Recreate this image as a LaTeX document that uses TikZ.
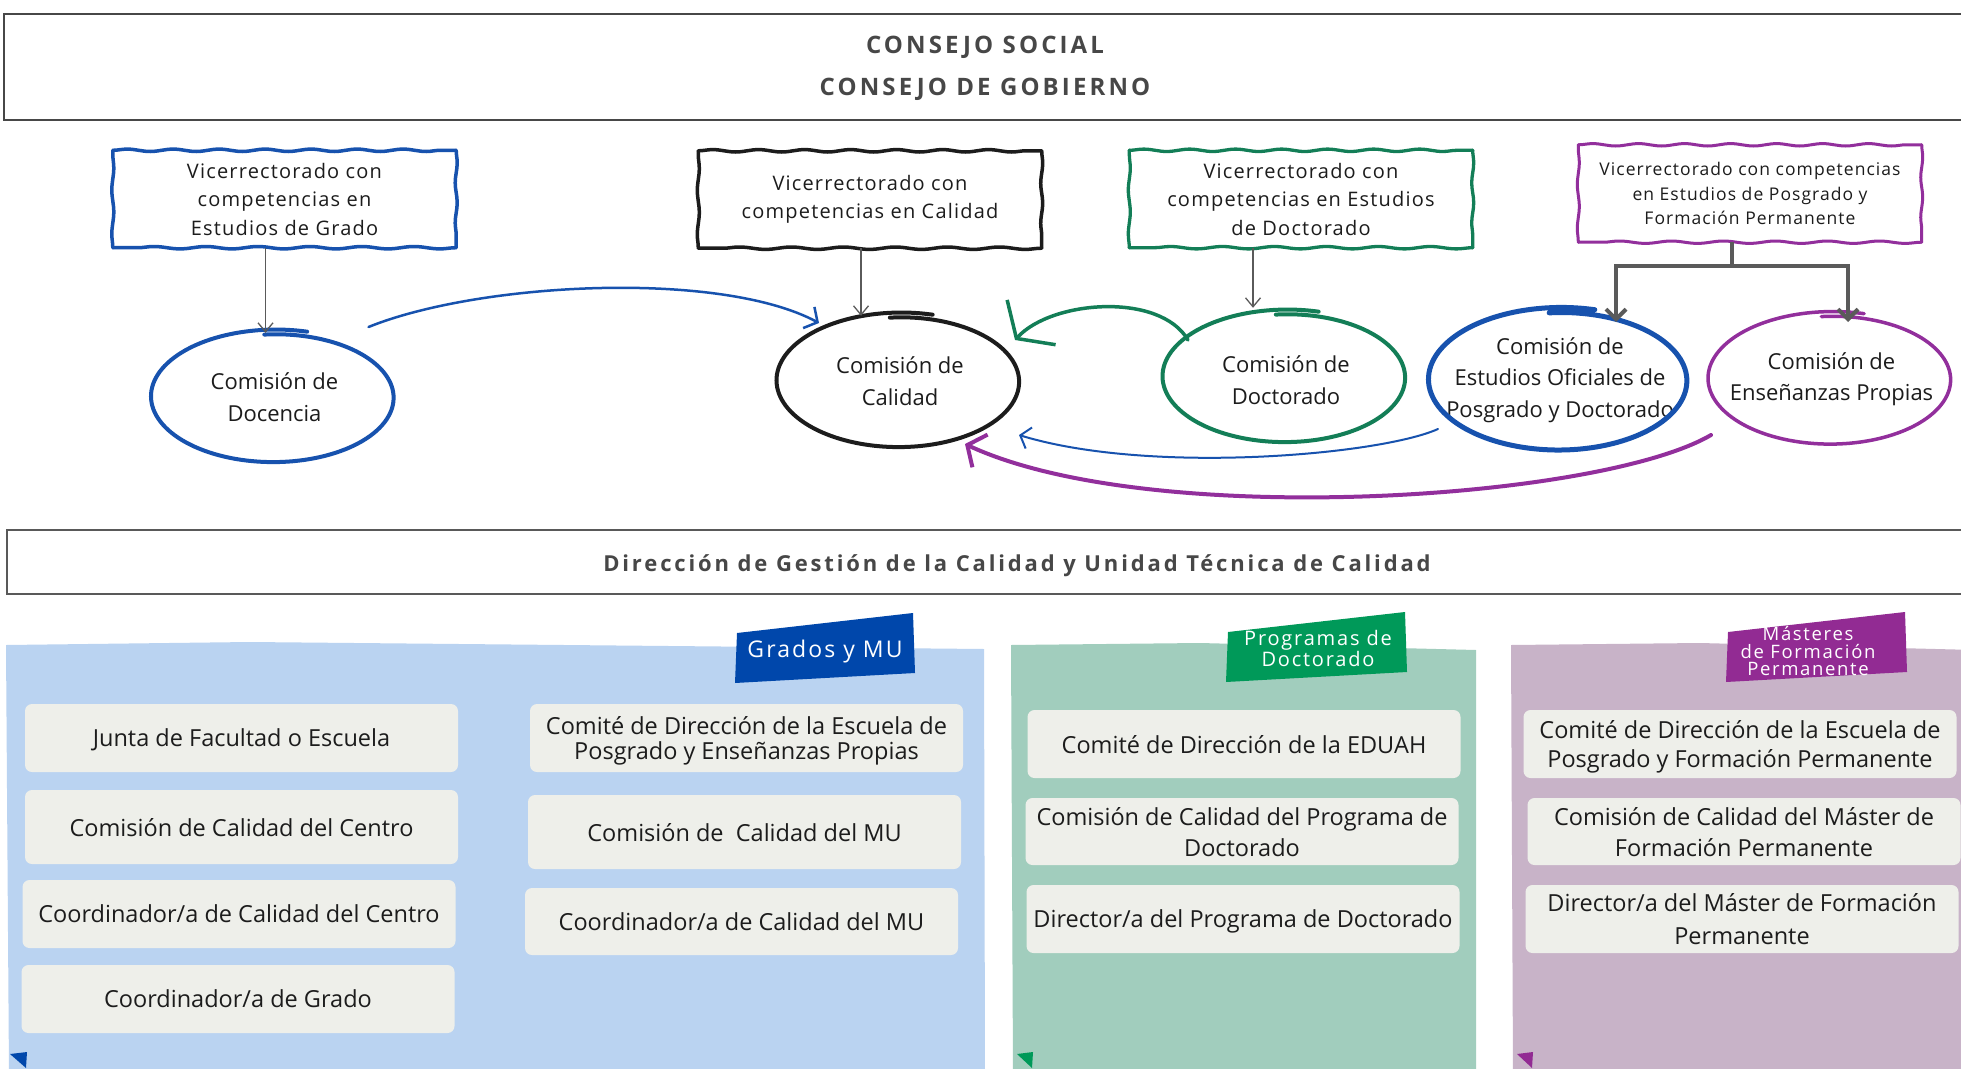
\documentclass[tikz,border=0pt]{standalone}
\usepackage{fontspec}
\setmainfont{Open Sans}
\newfontfamily\spc[LetterSpace=6]{Open Sans}
\newfontfamily\tagf[LetterSpace=9]{Open Sans}
\newfontfamily\hdr[LetterSpace=13]{Open Sans}
\usetikzlibrary{arrows.meta,decorations.pathmorphing,shapes.geometric,calc}
\definecolor{ink}{HTML}{1C1C1C}
\definecolor{hdrgray}{HTML}{474747}
\definecolor{sblue}{HTML}{1752AE}
\definecolor{sgreen}{HTML}{137E57}
\definecolor{spurple}{HTML}{922F9C}
\definecolor{tblue}{HTML}{0047AB}
\definecolor{tgreen}{HTML}{009959}
\definecolor{tpurple}{HTML}{922B93}
\definecolor{pblue}{HTML}{BAD3F1}
\definecolor{pgreen}{HTML}{A1CDBD}
\definecolor{ppurple}{HTML}{C8B3C8}
\definecolor{boxgray}{HTML}{EEEFEA}
\definecolor{arrgray}{HTML}{5A5A5A}
\newcommand\skell[5]{%
  \draw[#4, line width=#5, line cap=round, shift={(#1.center)}]
    plot[smooth, samples=70, domain=75:455]
    ({#2*(1.025-0.0002*(\x-75))*cos(\x)}, {-#3*(1.025-0.0002*(\x-75))*sin(\x)});
}
\newcommand\wbox[3]{%
  \draw[#2, line width=#3, line cap=round, decorate, decoration={snake, amplitude=1.2pt, segment length=46pt}] (#1.north west) -- (#1.north east);
  \draw[#2, line width=#3, line cap=round, decorate, decoration={snake, amplitude=1.0pt, segment length=40pt}] (#1.north east) -- (#1.south east);
  \draw[#2, line width=#3, line cap=round, decorate, decoration={snake, amplitude=1.2pt, segment length=52pt}] (#1.south east) -- (#1.south west);
  \draw[#2, line width=#3, line cap=round, decorate, decoration={snake, amplitude=1.0pt, segment length=44pt}] (#1.south west) -- (#1.north west);
}
\begin{document}
\begin{tikzpicture}[x=1pt,y=-1pt,
  vbox/.style={minimum width=343pt, minimum height=97pt, align=center, inner sep=0pt, text=ink,
    font=\spc\fontsize{20}{28.5}\selectfont},
  ell/.style={ellipse, inner sep=0pt, align=center, text=ink, font=\fontsize{22}{31.5}\selectfont},
  ibox/.style={fill=boxgray, rounded corners=7pt, minimum width=433pt, inner sep=0pt, align=center, text=ink, text depth=0pt},
  itxt/.style={font=\fontsize{23.5}{#1}\selectfont},
  garr/.style={draw=arrgray, line width=1.3pt, -{Straight Barb[length=9pt,width=15pt]}},
  tagtxt/.style={text=white, align=center, inner sep=0pt}
]
\useasboundingbox (0,0) rectangle (1961,1068);
\fill[white] (0,0) rectangle (1961,1068);

% ---------- top frame ----------
\node[draw=hdrgray, line width=2pt, minimum width=1990pt, minimum height=106pt, anchor=north west, inner sep=0pt] (consejo) at (3,12.5) {};
\node[font=\hdr\bfseries\fontsize{24}{28}\selectfont, text=hdrgray] (cs) at (985,47) {CONSEJO SOCIAL};
\node[font=\hdr\bfseries\fontsize{24}{28}\selectfont, text=hdrgray] (cg) at (985,89) {CONSEJO DE GOBIERNO};

% ---------- vicerrectorados ----------
\node[vbox] (v1) at (284.5,199) {Vicerrectorado con\\competencias en\\Estudios de Grado};
\node[vbox] (v2) at (870,199.5) {Vicerrectorado con\\competencias en Calidad};
\node[vbox] (v3) at (1301,199) {Vicerrectorado con\\competencias en Estudios\\de Doctorado};
\node[vbox, font=\spc\fontsize{17.5}{24.5}\selectfont] (v4) at (1750,193.5) {Vicerrectorado con competencias\\en Estudios de Posgrado y\\Formación Permanente};
\wbox{v1}{sblue}{3.5pt}
\wbox{v2}{ink}{3.5pt}
\wbox{v3}{sgreen}{3.3pt}
\wbox{v4}{spurple}{3pt}

% ---------- comisiones ----------
\node[ell, minimum width=246pt, minimum height=132pt] (doc) at (274.5,397) {Comisión de\\Docencia};
\node[ell, minimum width=246pt, minimum height=134pt] (cal) at (900,381) {Comisión de\\Calidad};
\node[ell, minimum width=246pt, minimum height=132pt] (doct) at (1286,377) {\\[-8pt]Comisión de\\Doctorado};
\node[ell, minimum width=262pt, minimum height=142pt] (eo) at (1560,380) {Comisión de\\Estudios Oficiales de\\Posgrado y Doctorado};
\node[ell, minimum width=246pt, minimum height=132pt] (ens) at (1831.5,379) {Comisión de\\Enseñanzas Propias};

\skell{doc}{123}{66}{sblue}{4pt}
\skell{cal}{123}{67}{ink}{4pt}
\skell{doct}{123}{66}{sgreen}{4pt}
\skell{eo}{131}{71}{sblue}{5pt}
\skell{ens}{123}{66}{spurple}{3.5pt}

% ---------- vertical connectors ----------
\draw[garr] ($(v1.south -| doc.north)+(-9,0)$) -- ($(doc.north)+(-9,2)$);
\draw[garr] ($(v2.south)+(-9,0)$) -- ($(v2.south |- cal.north)+(-9,2)$);
\draw[garr] ($(v3.south)+(-48,0)$) -- ($(v3.south |- doct.north)+(-48,-3)$);

\coordinate (br) at (1732,266);
\coordinate (eoT) at (1616,322);
\coordinate (ensT) at (1848,322);
\draw[arrgray, line width=4pt] (v4.south -| br) -- (br);
\draw[arrgray, line width=4pt, -{Straight Barb[length=10pt,width=20pt]}] (br) -| (eoT);
\draw[arrgray, line width=4pt, -{Straight Barb[length=10pt,width=20pt]}] (br) -| (ensT);

% ---------- curved connectors ----------
\draw[sblue, line width=2.5pt, line cap=round, -{Straight Barb[length=10pt,width=24pt]}]
  ($(doc.center)+(94,-70)$) .. controls (480,282) and (720,270) .. ($(cal.center)+(-81,-58)$);
\draw[sgreen, line width=3.5pt, line cap=round, -{Straight Barb[length=22pt,width=66pt]}]
  ($(doct.center)+(-98,-37)$) .. controls (1160,292) and (1052,300) .. ($(cal.center)+(115,-41)$);
\draw[sblue, line width=2pt, line cap=round, -{Straight Barb[length=9pt,width=22pt]}]
  ($(eo.center)+(-122,49)$) .. controls (1380,455) and (1150,475) .. ($(cal.center)+(119,54)$);
\draw[spurple, line width=4pt, line cap=round, -{Straight Barb[length=14pt,width=36pt]}]
  ($(ens.center)+(-120.5,56)$) .. controls (1600,500) and (1150,530) .. ($(cal.center)+(65,63)$);

% ---------- Direccion frame ----------
\node[draw=gray!70!black, line width=1.5pt, minimum width=1990pt, minimum height=64pt, anchor=north west, inner sep=0pt] (dir) at (6,529) {};
\node[font=\hdr\bfseries\fontsize{22}{26}\selectfont, text=hdrgray] (dirt) at (1017,566) {Dirección de Gestión de la Calidad y Unidad Técnica de Calidad};

% ---------- panels ----------
\fill[pblue] (6,645) -- (250,642) -- (984,649) -- (985,1075) -- (9,1075) -- cycle;
\fill[pgreen] (1011,645) -- (1200,643) -- (1476,650) -- (1476,1075) -- (1013,1075) -- cycle;
\fill[ppurple] (1511,645) -- (1700,643) -- (1975,650) -- (1975,1075) -- (1513,1075) -- cycle;

\fill[tblue] (10,1054) -- (27,1052) -- (26,1068) -- cycle;
\fill[tgreen] (1017,1054) -- (1033,1052) -- (1032,1068) -- cycle;
\fill[tpurple] (1517,1054) -- (1533,1052) -- (1532,1068) -- cycle;

% tags
\fill[tblue] (737,633) -- (913,613) -- (915,673) -- (735,683) -- cycle;
\node[tagtxt, font=\tagf\fontsize{23}{24}\selectfont] (tg1) at (825,652) {Grados y MU};
\fill[tgreen] (1228,632) -- (1405,612) -- (1407,672) -- (1226,682) -- cycle;
\node[tagtxt, font=\tagf\fontsize{20}{19.5}\selectfont] (tg2) at (1318,648) {Programas de\\Doctorado};
\fill[tpurple] (1728,632) -- (1905,612) -- (1907,672) -- (1726,682) -- cycle;
\node[tagtxt, font=\tagf\fontsize{18.5}{17.5}\selectfont] (tg3) at (1808,651) {Másteres\\de Formación\\Permanente};

% ---------- inner boxes ----------
\node[ibox, minimum height=68pt, itxt=30] (b1) at (241.5,738) {Junta de Facultad o Escuela};
\node[ibox, minimum height=74pt, itxt=30] (b2) at (241.5,827) {Comisión de Calidad del Centro};
\node[ibox, minimum height=68pt, itxt=30] (b3) at (239,914) {Coordinador/a de Calidad del Centro};
\node[ibox, minimum height=68pt, itxt=30] (b4) at (238,999) {Coordinador/a de Grado};

\node[ibox, minimum height=68pt, itxt=25] (c1) at (746.5,738) {Comité de Dirección de la Escuela de\\Posgrado y Enseñanzas Propias};
\node[ibox, minimum height=74pt, itxt=30] (c2) at (744.5,832) {Comisión de\ \ Calidad del MU};
\node[ibox, minimum height=67pt, itxt=30] (c3) at (741.5,921.5) {Coordinador/a de Calidad del MU};

\node[ibox, minimum height=68pt, itxt=30] (g1) at (1244,744) {Comité de Dirección de la EDUAH};
\node[ibox, minimum height=67pt, itxt=31] (g2) at (1242,831.5) {Comisión de Calidad del Programa de\\Doctorado};
\node[ibox, minimum height=68pt, itxt=30] (g3) at (1243,919) {Director/a del Programa de Doctorado};

\node[ibox, minimum height=68pt, itxt=29] (p1) at (1740,744) {Comité de Dirección de la Escuela de\\Posgrado y Formación Permanente};
\node[ibox, minimum height=67pt, itxt=31] (p2) at (1744,831.5) {Comisión de Calidad del Máster de\\Formación Permanente};
\node[ibox, minimum height=68pt, itxt=33] (p3) at (1742,919) {Director/a del Máster de Formación\\Permanente};
\end{tikzpicture}
\end{document}
